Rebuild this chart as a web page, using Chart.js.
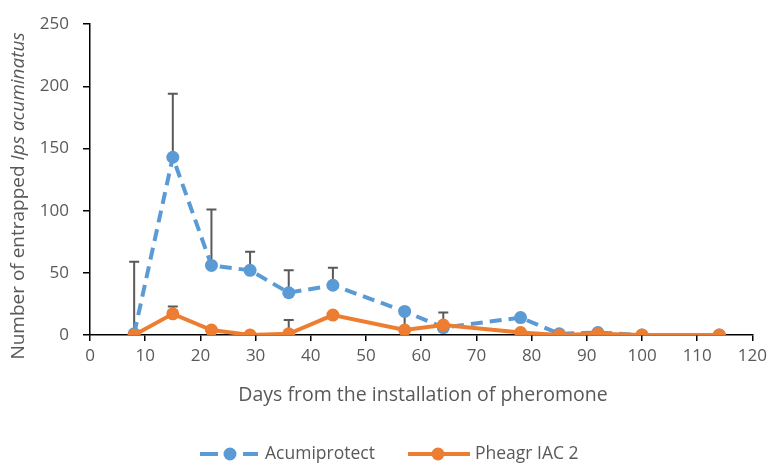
<!DOCTYPE html>
<html lang="en">
<head>
<meta charset="UTF-8">
<script src="https://cdn.jsdelivr.net/npm/chart.js"></script>
<title>Ips acuminatus trap catches</title>
<style>
  body { margin: 0; background: #fff; }
  #wrap { width: 772px; height: 463px; }
</style>
</head>
<body>
<div id="wrap"><canvas id="chart" width="772" height="463"></canvas></div>
<script>
// days since pheromone installation
var days = [8, 15, 22, 29, 36, 44, 57, 64, 78, 85, 92, 100, 114];

// mean catches and upper end of the error bars (null = none)
var acumiprotect    = [1, 143, 56, 52, 34, 40, 19, 6, 14, 1, 2, 0, 0];
var acumiprotectTop = [59, 194, 101, 67, 52, 54, null, null, null, null, null, null, null];
var pheagr          = [0, 17, 4, 0, 1, 16, 4, 8, 2, 0, 1, 0, 0];
var pheagrTop       = [null, 23, null, null, 12, null, 19, 18, null, null, null, null, null];

var xTicks = [0, 10, 20, 30, 40, 50, 60, 70, 80, 90, 100, 110, 120];
var yTicks = [0, 50, 100, 150, 200, 250];

var BLUE = '#5B9BD5';
var ORANGE = '#ED7D31';
var GREY = '#595959';
var FONT = '"Open Sans", "Noto Sans", sans-serif';

function pts(vals) {
  return days.map(function (d, i) { return { x: d, y: vals[i] }; });
}

// upward error bars, drawn under the lines
const errorBars = {
  id: 'errorBars',
  beforeDatasetsDraw(chart) {
    const ctx = chart.ctx;
    const xs = chart.scales.x, ys = chart.scales.y;
    const tops = [acumiprotectTop, pheagrTop];
    const vals = [acumiprotect, pheagr];
    ctx.save();
    ctx.strokeStyle = GREY;
    ctx.lineWidth = 2;
    tops.forEach(function (top, s) {
      top.forEach(function (t, i) {
        if (t === null) return;
        const x = xs.getPixelForValue(days[i]);
        const y0 = ys.getPixelForValue(vals[s][i]);
        const y1 = ys.getPixelForValue(t);
        ctx.beginPath();
        ctx.moveTo(x, y0); ctx.lineTo(x, y1);
        ctx.moveTo(x - 5, y1); ctx.lineTo(x + 5, y1);
        ctx.stroke();
      });
    });
    ctx.restore();
  }
};

// axis titles (mixed italic) and the bottom legend
const labels = {
  id: 'labels',
  afterDraw(chart) {
    const ctx = chart.ctx;
    const area = chart.chartArea;
    ctx.save();
    ctx.fillStyle = GREY;
    ctx.textBaseline = 'middle';

    ctx.font = '19.5px ' + FONT;
    ctx.textAlign = 'center';
    ctx.fillText('Days from the installation of pheromone', 423, 395);

    // y title
    ctx.translate(19, 196);
    ctx.rotate(-Math.PI / 2);
    const a = 'Number of entrapped ';
    const b = 'Ips acuminatus';
    ctx.font = '19px ' + FONT;
    const wa = ctx.measureText(a).width;
    ctx.font = 'italic 19px ' + FONT;
    const wb = ctx.measureText(b).width;
    ctx.textAlign = 'left';
    ctx.font = '19px ' + FONT;
    ctx.fillText(a, -(wa + wb) / 2, 0);
    ctx.font = 'italic 19px ' + FONT;
    ctx.fillText(b, -(wa + wb) / 2 + wa, 0);
    ctx.setTransform(1, 0, 0, 1, 0, 0);

    // legend
    const ly = 454;
    ctx.lineWidth = 4;
    ctx.strokeStyle = BLUE;
    ctx.beginPath();
    ctx.moveTo(200, ly); ctx.lineTo(218, ly);
    ctx.moveTo(243, ly); ctx.lineTo(258, ly);
    ctx.stroke();
    ctx.fillStyle = BLUE;
    ctx.beginPath(); ctx.arc(230, ly, 6.5, 0, Math.PI * 2); ctx.fill();

    ctx.strokeStyle = ORANGE;
    ctx.beginPath();
    ctx.moveTo(408, ly); ctx.lineTo(470, ly);
    ctx.stroke();
    ctx.fillStyle = ORANGE;
    ctx.beginPath(); ctx.arc(438, ly, 6.5, 0, Math.PI * 2); ctx.fill();

    ctx.fillStyle = GREY;
    ctx.font = '17.5px ' + FONT;
    ctx.textAlign = 'left';
    ctx.fillText('Acumiprotect', 265, ly);
    ctx.fillText('Pheagr IAC 2', 475, ly);
    ctx.restore();
  }
};

new Chart(document.getElementById('chart'), {
  type: 'line',
  data: {
    datasets: [{
      label: 'Acumiprotect',
      data: pts(acumiprotect),
      borderColor: BLUE,
      backgroundColor: BLUE,
      borderWidth: 4,
      borderDash: [12, 7],
      pointRadius: 6.5,
      pointBorderWidth: 0,
      order: 1
    }, {
      label: 'Pheagr IAC 2',
      data: pts(pheagr),
      borderColor: ORANGE,
      backgroundColor: ORANGE,
      borderWidth: 4,
      pointRadius: 6.5,
      pointBorderWidth: 0,
      order: 0
    }]
  },
  options: {
    responsive: false,
    animation: false,
    layout: { padding: { left: 0, top: 23, right: 17, bottom: 0 } },
    plugins: { legend: { display: false }, tooltip: { enabled: false } },
    scales: {
      x: {
        type: 'linear',
        min: 0, max: 120,
        afterBuildTicks(scale) { scale.ticks = xTicks.map(v => ({ value: v })); },
        afterFit(scale) { scale.height = 128; },
        border: { color: '#000', width: 1.5 },
        grid: { drawOnChartArea: false, color: '#000', tickLength: 6, lineWidth: 1.5 },
        ticks: { color: GREY, font: { size: 17, family: FONT }, padding: 5, maxRotation: 0 }
      },
      y: {
        min: 0, max: 250,
        afterBuildTicks(scale) { scale.ticks = yTicks.map(v => ({ value: v })); },
        afterFit(scale) { scale.width = 90; },
        border: { color: '#000', width: 1.5 },
        grid: { drawOnChartArea: false, color: '#000', tickLength: 7, lineWidth: 1.5 },
        ticks: { color: GREY, font: { size: 17, family: FONT }, padding: 14 }
      }
    }
  },
  plugins: [errorBars, labels]
});
</script>
</body>
</html>
